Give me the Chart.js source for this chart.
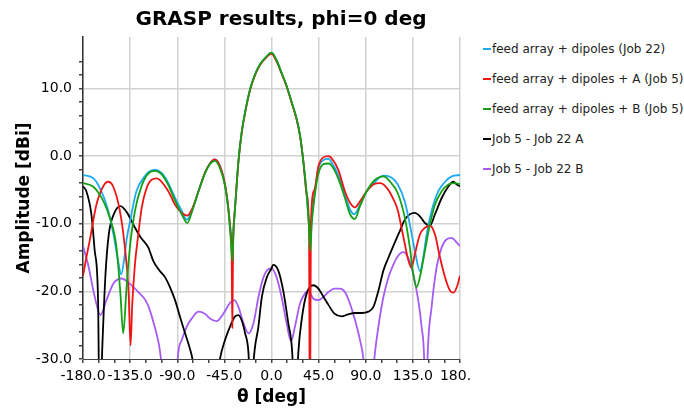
<!DOCTYPE html>
<html>
<head>
<meta charset="utf-8">
<title>GRASP results, phi=0 deg</title>
<script src="https://cdn.jsdelivr.net/npm/chart.js@4.4.1/dist/chart.umd.min.js"></script>
<style>
  html, body { margin: 0; padding: 0; background: #fff; overflow: hidden; }
  #wrap { position: relative; width: 684px; height: 412px; }
  #plotbox { position: absolute; left: 0; top: 0; width: 470px; height: 412px; overflow: hidden; }
  #legend { position: absolute; left: 483px; top: 34px; margin: 0; padding: 0; list-style: none;
    font-family: "DejaVu Sans", sans-serif; font-size: 12px; color: #222; white-space: nowrap; }
  #legend li { height: 30px; line-height: 30px; position: relative; padding-left: 9px; }
  #legend li span { position: absolute; left: 0; top: 14px; width: 8px; height: 2px; }
</style>
</head>
<body>
<div id="wrap">
  <div id="plotbox"><canvas id="grasp" width="684" height="412"></canvas></div>
  <ul id="legend"></ul>
</div>
<script>
// theta [deg] / amplitude [dBi] per curve
const feedTheta = [-180, -170, -164, -157, -151, -146.5, -143.5, -140.5, -138, -135, -129, -121, -117.7, -111.3, -104.9, -98.5, -92.1, -85.7, -80.9, -76.1, -69.7, -63.6, -58.8, -54, -49.2, -44.4, -41.2, -39, -37.4, -36, -34.8, -31.6, -28.4, -25.2, -20.4, -15.6, -10.8, -6, 0, 4.8, 9.6, 14.4, 19.2, 24, 27.2, 30.4, 33.6, 35.8, 37, 38.4, 41, 44.8, 49.6, 54.4, 57.3, 63.7, 70.1, 75, 79, 84.5, 90.9, 98.9, 106.9, 114.9, 120.6, 127.3, 132.1, 136.9, 141.7, 144.9, 148.1, 152.9, 159.3, 165.7, 172.1, 180];
const feedDb = [-2.8, -3.3, -4.7, -7.5, -11.5, -15.5, -17.5, -15.0, -12.0, -9.6, -5.2, -3.0, -2.4, -2.0, -2.5, -4.0, -6.2, -8.1, -9.4, -8.1, -5.2, -2.5, -1.1, -0.5, -1.5, -4.2, -7.7, -11.0, -13.5, -10.0, -7.5, -0.8, 3.6, 6.5, 9.9, 12.1, 13.6, 14.5, 15.3, 14.2, 12.3, 10.4, 8.0, 5.5, 3.1, -0.8, -5.7, -10.1, -12.8, -9.6, -5.7, -1.8, -0.6, -0.4, -0.9, -2.8, -5.7, -7.9, -8.6, -7.2, -5.2, -3.8, -2.9, -3.2, -4.2, -6.7, -10.1, -14.0, -17.0, -15.0, -11.6, -8.1, -5.2, -3.8, -3.0, -2.8];

const feedATheta = [-180, -176.8, -173.6, -167.2, -160.8, -156, -151.2, -144.8, -140, -136.5, -134.6, -133, -130.4, -127.2, -124, -119.2, -114.5, -109.7, -104.9, -98.5, -92.1, -85.7, -80.3, -76.1, -69.7, -63.6, -58.8, -54, -49.2, -44.4, -41.2, -39, -38.1, -37.4, -36.7, -36, -34.8, -31.6, -28.4, -25.2, -20.4, -15.6, -10.8, -6, 0, 4.8, 9.6, 14.4, 19.2, 24, 27.2, 30.4, 33.6, 35.8, 36.7, 37.6, 41, 44.8, 49.6, 54.4, 57.3, 63.7, 70.1, 75, 79.7, 84.5, 90.9, 97.3, 103.7, 110.1, 116.5, 120.6, 124, 127.3, 130.5, 133.7, 136.9, 141.7, 146.5, 151.3, 156.1, 160.9, 165.7, 170.5, 173.7, 176.9, 180];
const feedADb = [-17.7, -15.0, -12.5, -7.2, -4.5, -3.8, -4.5, -8.1, -13.5, -20.0, -28.0, -22.0, -16.0, -11.6, -7.7, -4.7, -3.5, -3.3, -3.8, -5.2, -7.2, -8.4, -8.8, -7.9, -5.2, -2.5, -1.1, -0.5, -1.5, -4.2, -7.7, -11.5, -14.0, -25.4, -13.0, -10.0, -7.7, -0.9, 3.5, 6.4, 9.8, 12.0, 13.5, 14.4, 15.1, 14.0, 12.2, 10.3, 7.9, 5.4, 3.0, -0.8, -5.7, -10.5, -45, -10.0, -5.0, -1.5, -0.2, 0.0, -0.3, -2.0, -5.2, -6.9, -7.6, -6.7, -5.2, -4.2, -4.0, -4.7, -6.4, -8.0, -10.5, -13.0, -15.3, -16.5, -14.5, -11.6, -10.6, -10.3, -11.6, -15.0, -17.9, -19.9, -20.2, -19.4, -17.7];

const feedBTheta = [-180, -170.4, -164, -159, -154.4, -148, -144.3, -141.6, -138.4, -135.2, -130.4, -124, -117.7, -111.3, -104.9, -98.5, -92.1, -85.7, -80.3, -76.1, -69.7, -63.6, -58.8, -54, -49.2, -44.4, -41.2, -39, -37.4, -36, -34.8, -31.6, -28.4, -25.2, -20.4, -15.6, -10.8, -6, 0, 4.8, 9.6, 14.4, 19.2, 24, 27.2, 30.4, 33.6, 35.8, 37, 38.4, 41, 44.8, 49.6, 54.4, 57.3, 63.7, 70.1, 75, 79.7, 84.5, 90.9, 98.9, 106.9, 113.3, 120.6, 127.3, 132.1, 135.3, 138.5, 141.7, 146.5, 151.3, 156.1, 162.5, 168.9, 175.3, 180];
const feedBDb = [-4.0, -4.5, -5.7, -7.2, -9.1, -13.5, -20.3, -26.2, -19.4, -13.5, -8.1, -4.4, -2.6, -2.2, -2.7, -4.3, -6.6, -8.6, -9.9, -8.3, -5.2, -2.6, -1.2, -0.7, -1.8, -4.4, -8.0, -12.0, -15.5, -10.5, -7.7, -0.8, 3.6, 6.5, 9.9, 12.1, 13.6, 14.5, 15.3, 14.2, 12.3, 10.4, 8.0, 5.5, 3.1, -0.8, -5.7, -10.5, -14.0, -10.0, -6.2, -2.6, -1.2, -1.1, -1.4, -3.3, -6.2, -8.6, -9.3, -7.4, -5.2, -3.5, -3.0, -3.8, -5.5, -9.1, -13.5, -17.4, -19.4, -17.9, -14.0, -10.1, -7.2, -5.2, -4.2, -4.0, -4.2];

const diffATheta = [-180, -176.8, -172, -168.8, -165.6, -164.2, -161.5, -158.5, -155.4, -150.6, -144.2, -137.8, -131.4, -125, -117.7, -112.9, -108.1, -101.7, -96.9, -92.1, -87.3, -82.5, -77.7, -75.5, -70, -62, -54, -49.2, -44.4, -39.6, -34.8, -31.6, -28.4, -25.2, -22, -19.5, -16.9, -12.5, -9.2, -4.4, -0.3, 1.6, 6.4, 11.2, 16, 19.8, 22.5, 25.6, 28.8, 33.6, 40, 44.8, 49.6, 54.4, 60.1, 66.9, 73.3, 79.7, 86.1, 92.5, 97.3, 102.1, 106.9, 111.7, 117.7, 122.5, 127.3, 132.1, 136.9, 141.7, 146.5, 151.3, 156.1, 162.5, 168.9, 173.7, 176.9, 180];
const diffADb = [-4.5, -5.2, -8.6, -14.0, -21.3, -40, -28.0, -17.4, -11.6, -8.6, -7.4, -8.4, -10.3, -12.0, -13.5, -15.5, -16.7, -17.9, -19.4, -21.3, -23.8, -26.2, -28.6, -30.0, -36, -40, -36, -30.0, -27.2, -25.2, -23.7, -23.5, -24.3, -26.2, -29.1, -38, -30.0, -25.2, -20.8, -17.9, -16.7, -16.1, -16.9, -19.9, -24.7, -29.1, -40, -29.1, -24.2, -20.3, -19.1, -19.6, -20.8, -22.0, -23.3, -23.7, -23.4, -23.2, -23.2, -23.0, -22.3, -19.9, -16.9, -15.0, -12.8, -11.1, -9.4, -8.6, -8.4, -8.9, -9.9, -10.3, -8.6, -6.2, -4.5, -3.8, -4.2, -4.5];

const diffBTheta = [-180, -175.2, -168.8, -163.4, -157.6, -151.2, -143.2, -135.2, -127.2, -120.4, -117.3, -112.5, -107.7, -105.5, -100, -95, -91, -89.6, -85.7, -80.9, -76.1, -69.7, -63.6, -58.8, -52.4, -46, -39.6, -35.5, -31.6, -26.8, -22, -17.2, -12.4, -7.6, -2.8, 0, 4.8, 9.6, 14.4, 18.6, 22.4, 27.2, 32, 35.2, 40, 44.8, 49.6, 54.4, 60.1, 65.3, 70.1, 74.9, 79.7, 84.5, 87.7, 92.5, 98.2, 102.1, 106.9, 111.7, 116.5, 120.6, 125.7, 130.5, 135.3, 140.1, 143.3, 145.8, 147.4, 149, 152.9, 157.7, 162.5, 167.3, 172.1, 176.9, 180];
const diffBDb = [-13.3, -16.0, -20.8, -23.5, -21.3, -18.9, -18.1, -18.9, -20.1, -21.3, -22.3, -24.7, -27.7, -30.0, -38, -40, -36, -30.0, -27.2, -25.2, -24.0, -23.0, -23.3, -24.0, -24.4, -23.3, -21.7, -21.3, -22.3, -24.7, -26.2, -24.7, -20.8, -17.9, -16.7, -16.6, -17.9, -20.8, -24.7, -27.4, -25.2, -21.8, -20.3, -19.9, -21.1, -21.3, -20.8, -20.1, -19.6, -19.6, -20.1, -21.8, -24.2, -27.2, -30.0, -42, -30.0, -25.2, -20.8, -17.9, -16.0, -14.8, -14.2, -15.0, -17.4, -21.3, -25.2, -30.0, -42, -30.0, -22.3, -16.4, -13.5, -12.3, -12.1, -12.8, -13.3];

const seriesLabels = [
  "feed array + dipoles (Job 22)",
  "feed array + dipoles + A (Job 5)",
  "feed array + dipoles + B (Job 5)",
  "Job 5 - Job 22 A",
  "Job 5 - Job 22 B"
];
const seriesColors = ["#1eaaf0", "#f01414", "#14a014", "#000000", "#a55cf5"];
// lower number is painted last (on top)
const seriesOrder = [2, 1, 0, 3, 4];

const thetaTicks = [-180, -135, -90, -45, 0, 45, 90, 135, 180];
const ampTicks = [-30, -20, -10, 0, 10];

const curves = [
  [feedTheta, feedDb],
  [feedATheta, feedADb],
  [feedBTheta, feedBDb],
  [diffATheta, diffADb],
  [diffBTheta, diffBDb]
];

function toPoints(theta, db) {
  return theta.map(function (t, i) {
    return { x: t, y: db[i] };
  });
}

const datasets = curves.map(function (c, i) {
  return {
    label: seriesLabels[i],
    data: toPoints(c[0], c[1]),
    borderColor: seriesColors[i],
    backgroundColor: seriesColors[i],
    borderWidth: 1.8,
    pointRadius: 0,
    cubicInterpolationMode: "monotone",
    order: seriesOrder[i]
  };
});

// legend on the right
const legendList = document.getElementById("legend");
seriesLabels.forEach(function (txt, i) {
  let li = document.createElement("li");
  let dash = document.createElement("span");
  dash.style.background = seriesColors[i];
  li.appendChild(dash);
  li.appendChild(document.createTextNode(txt));
  legendList.appendChild(li);
});

function isMajor(list, v) {
  return list.indexOf(Math.round(v * 10) / 10) !== -1;
}

const tickFont = { family: "DejaVu Sans", size: 14 };
const titleFont = { family: "DejaVu Sans", size: 17, weight: "bold" };

const ctx = document.getElementById("grasp").getContext("2d");
const graspChart = new Chart(ctx, {
  type: "line",
  data: { datasets: datasets },
  options: {
    responsive: false,
    animation: false,
    // title is centred over the left 562px; the plot keeps clear of the legend
    layout: { padding: { left: 0, right: 122, top: 0, bottom: 0 } },
    plugins: {
      legend: { display: false },
      tooltip: { enabled: false },
      title: {
        display: true,
        text: "GRASP results, phi=0 deg",
        color: "#000",
        font: { family: "DejaVu Sans", size: 20, weight: "bold" },
        padding: { top: 8, bottom: 5 }
      }
    },
    scales: {
      x: {
        type: "linear",
        min: -180,
        max: 180,
        title: { display: true, text: "θ [deg]", color: "#000", font: titleFont, padding: { top: 4, bottom: 4 } },
        ticks: {
          stepSize: 15,
          autoSkip: false,
          maxRotation: 0,
          minRotation: 0,
          padding: 5,
          color: "#000",
          font: tickFont,
          callback: function (v) {
            return isMajor(thetaTicks, v) ? v.toFixed(1) : "";
          }
        },
        grid: {
          color: function (c) {
            return c.tick && isMajor(thetaTicks, c.tick.value) ? "#d2d2d2" : "rgba(0,0,0,0)";
          },
          lineWidth: 1.5,
          tickColor: "#444",
          tickLength: 4
        },
        border: { color: "#444", width: 1 },
        afterFit: function (scale) {
          scale.height = 53;
          // distance of the plot's right edge from the canvas edge
          scale.paddingRight = 224;
        }
      },
      y: {
        min: -30,
        max: 17.6,
        title: { display: true, text: "Amplitude [dBi]", color: "#000", font: titleFont, padding: { top: 14, bottom: 4 } },
        ticks: {
          stepSize: 2,
          autoSkip: false,
          padding: 7,
          color: "#000",
          font: tickFont,
          callback: function (v) {
            return isMajor(ampTicks, v) ? v.toFixed(1) : "";
          }
        },
        afterBuildTicks: function (scale) {
          scale.ticks = scale.ticks.filter(function (t) {
            return Math.abs(t.value / 2 - Math.round(t.value / 2)) < 1e-6;
          });
        },
        grid: {
          color: function (c) {
            return c.tick && isMajor(ampTicks, c.tick.value) && c.tick.value > -30 ? "#d2d2d2" : "rgba(0,0,0,0)";
          },
          lineWidth: 1.5,
          tickColor: "#444",
          tickLength: 4
        },
        border: { color: "#333", width: 1.5 },
        afterFit: function (scale) {
          scale.width = 83;
        }
      }
    }
  }
});
</script>
</body>
</html>
